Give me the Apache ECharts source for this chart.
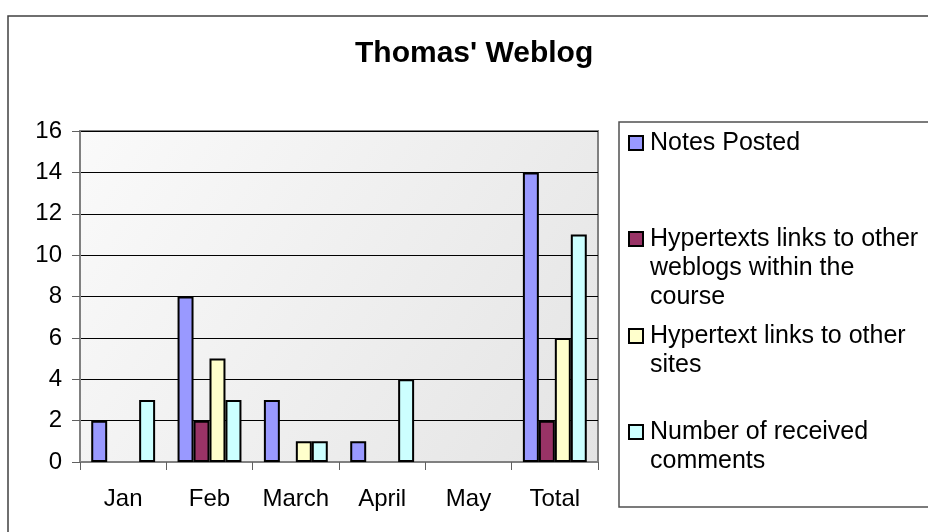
<!DOCTYPE html>
<html>
<head>
<meta charset="utf-8">
<script src="https://cdn.jsdelivr.net/npm/echarts@6/dist/echarts.min.js"></script>
<style>
html,body{margin:0;padding:0;background:#fff;}
#chart{width:928px;height:532px;}
</style>
</head>
<body>
<div id="chart"></div>
<script>
// ---- data ----
const categories = ['Jan', 'Feb', 'March', 'April', 'May', 'Total'];
const notesPosted = [2, 8, 3, 1, null, 14];
const linksToWeblogs = [null, 2, null, null, null, 2];
const linksToSites = [null, 5, 1, null, null, 6];
const receivedComments = [3, 3, 1, 4, null, 11];
const seriesNames = [
  'Notes Posted',
  'Hypertexts links to other weblogs within the course',
  'Hypertext links to other sites',
  'Number of received comments'
];
const legendLines = [
  ['Notes Posted'],
  ['Hypertexts links to other', 'weblogs within the', 'course'],
  ['Hypertext links to other', 'sites'],
  ['Number of received', 'comments']
];
const yMin = 0, yMax = 16, yInterval = 2;

// ---- style / layout ----
const colors = ['#9999FF', '#993366', '#FFFFCC', '#CCFFFF'];
const legendFirstLineY = [143, 239, 336, 432];
const LH = 29;

const seriesData = [notesPosted, linksToWeblogs, linksToSites, receivedComments];

const chart = echarts.init(document.getElementById('chart'), null, {renderer: 'canvas'});

const legends = seriesNames.map((name, i) => {
  const n = legendLines[i].length;
  return {
    data: [name],
    left: 628,
    top: legendFirstLineY[i] - (2 * n - 1) * LH / 2,
    padding: 0,
    itemWidth: 14,
    itemHeight: 14,
    icon: 'rect',
    selectedMode: false,
    itemStyle: {borderColor: '#000', borderWidth: 2},
    // leading blank lines keep the icon level with the first text line
    formatter: () => '\n'.repeat(n - 1) + legendLines[i].join('\n'),
    textStyle: {
      fontFamily: 'Liberation Sans, Arial, sans-serif',
      fontSize: 25,
      lineHeight: LH,
      color: '#000',
      padding: [0, 0, 0, 2]
    }
  };
});

const option = {
  animation: false,
  backgroundColor: '#fff',
  title: {
    text: "Thomas' Weblog",
    left: 355,
    top: 39,
    padding: 0,
    textStyle: {
      fontFamily: 'Liberation Sans, Arial, sans-serif',
      fontSize: 30,
      fontWeight: 'bold',
      color: '#000'
    }
  },
  graphic: [
    {type: 'rect', shape: {x: 8, y: 16, width: 1000, height: 600}, style: {fill: 'none', stroke: '#404040', lineWidth: 1.5}, z: 100},
    {type: 'rect', shape: {x: 619, y: 122, width: 400, height: 385}, style: {fill: 'none', stroke: '#505050', lineWidth: 1.5}, z: 100}
  ],
  legend: legends,
  grid: {
    left: 80, right: 330, top: 131, bottom: 70,
    show: true,
    borderColor: '#808080',
    borderWidth: 2,
    backgroundColor: {
      type: 'linear', x: 0, y: 0, x2: 1, y2: 1,
      colorStops: [{offset: 0, color: '#FAFAFA'}, {offset: 1, color: '#E4E4E4'}]
    }
  },
  xAxis: {
    type: 'category',
    data: categories,
    axisLine: {lineStyle: {color: '#808080', width: 2}},
    axisTick: {show: true, interval: 0, length: 8, lineStyle: {color: '#606060', width: 1}},
    axisLabel: {
      interval: 0,
      hideOverlap: false,
      margin: 25,
      fontFamily: 'Liberation Sans, Arial, sans-serif',
      fontSize: 24,
      color: '#000'
    }
  },
  yAxis: {
    type: 'value',
    min: yMin, max: yMax, interval: yInterval,
    axisLine: {show: true, lineStyle: {color: '#808080', width: 2}},
    axisTick: {show: true, length: 8, lineStyle: {color: '#606060', width: 1}},
    splitLine: {show: true, lineStyle: {color: '#000', width: 1}},
    axisLabel: {
      margin: 18,
      fontFamily: 'Liberation Sans, Arial, sans-serif',
      fontSize: 24,
      color: '#000'
    }
  },
  series: seriesNames.map((name, i) => ({
    name: name,
    type: 'bar',
    data: seriesData[i],
    barGap: '0%',
    barCategoryGap: '26%',
    itemStyle: {color: colors[i], borderColor: '#000', borderWidth: 2}
  }))
};

chart.setOption(option);
</script>
</body>
</html>
